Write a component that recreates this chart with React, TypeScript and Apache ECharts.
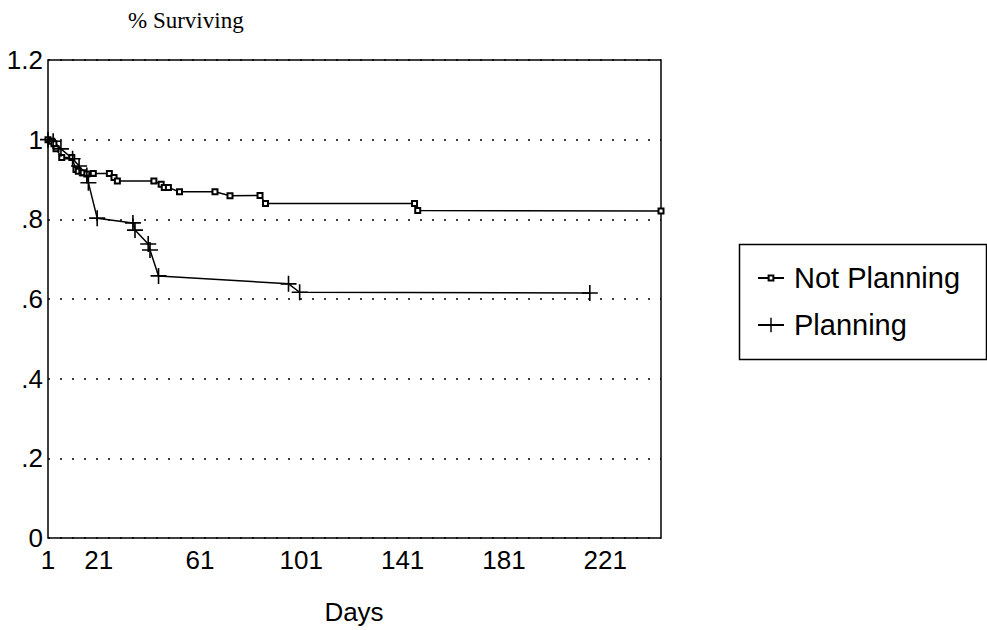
import React, { useEffect, useRef } from "react";
import * as echarts from "echarts";

const npDays = [1, 2.43, 3.35, 4.17, 6.42, 10.4, 12.04, 12.96, 14.9, 16.33, 18.89, 25.22, 27.06, 28.39, 42.8, 45.67, 46.9, 48.53, 52.92, 66.92, 72.85, 84.7, 86.86, 145.7, 146.95, 243];
const npSurv = [1, 0.996, 0.99, 0.977, 0.955, 0.955, 0.925, 0.921, 0.917, 0.914, 0.915, 0.915, 0.905, 0.896, 0.896, 0.888, 0.88, 0.88, 0.869, 0.869, 0.859, 0.86, 0.84, 0.84, 0.822, 0.821];

const pDays = [1, 3.04, 6.11, 10.71, 13.27, 16.33, 16.94, 20.42, 34.52, 35.34, 40.56, 41.27, 44.64, 95.95, 100.35, 214.9];
const pSurv = [1, 0.996, 0.977, 0.952, 0.934, 0.91, 0.892, 0.803, 0.791, 0.773, 0.738, 0.723, 0.658, 0.638, 0.617, 0.615];

const xTickValues = [1, 21, 61, 101, 141, 181, 221];
const seriesNames = ["Not Planning", "Planning"];

const PLUS = "path://M4.5,0h1v4.5h4.5v1h-4.5v4.5h-1v-4.5h-4.5v-1h4.5z";

export default function App() {
  const ref = useRef<HTMLDivElement>(null);
  useEffect(() => {
    const chart = echarts.init(ref.current!, null, { renderer: "svg" });
    const font = "'Liberation Sans', Arial, sans-serif";
    const legendText = { fontFamily: font, fontSize: 29, color: "#000", lineHeight: 30, padding: [0, 0, 0, 5] };
    chart.setOption({
      animation: false,
      backgroundColor: "#fff",
      grid: { left: 48, top: 60, width: 613, height: 478, show: true, borderColor: "#000", borderWidth: 1.5 },
      xAxis: {
        type: "value",
        min: 1,
        max: 243,
        axisLine: { show: false },
        axisTick: { show: false },
        splitLine: { show: false },
        axisLabel: { customValues: xTickValues, fontFamily: font, fontSize: 26, color: "#000", margin: 9 },
      },
      yAxis: {
        type: "value",
        min: 0,
        max: 1.2,
        interval: 0.2,
        axisLine: { show: false },
        axisTick: { show: false },
        splitLine: { show: true, lineStyle: { type: [2, 10], color: "#000", width: 1.5 } },
        axisLabel: {
          fontFamily: font,
          fontSize: 26,
          color: "#000",
          margin: 5,
          formatter: (v: number) => {
            const r = Math.round(v * 10) / 10;
            if (r === 0) return "0";
            if (r === 1) return "1";
            if (r === 1.2) return "1.2";
            return r.toFixed(1).replace(/^0/, "");
          },
        },
      },
      legend: [
        {
          data: [seriesNames[0]],
          orient: "vertical",
          left: 757,
          top: 263,
          padding: 0,
          itemWidth: 26,
          itemHeight: 6,
          selectedMode: false,
          textStyle: legendText,
        },
        {
          data: [seriesNames[1]],
          orient: "vertical",
          left: 757,
          top: 310,
          padding: 0,
          itemWidth: 26,
          itemHeight: 18,
          selectedMode: false,
          textStyle: legendText,
        },
      ],
      graphic: [
        { type: "rect", left: 737, top: 242, shape: { width: 247, height: 115 }, style: { fill: "none", stroke: "#000", lineWidth: 1.5 } },
        { type: "text", left: 128, top: 9, style: { text: "% Surviving", font: "23px 'Liberation Serif', 'Times New Roman', serif", fill: "#000" } },
        { type: "text", x: 354, y: 612, style: { text: "Days", font: "26px " + font, fill: "#000", align: "center", verticalAlign: "middle" } },
      ],
      series: [
        {
          name: seriesNames[0],
          type: "line",
          data: npDays.map((d, i) => [d, npSurv[i]]),
          symbol: "emptyRect",
          symbolSize: 5,
          showAllSymbol: true,
          lineStyle: { color: "#000", width: 1.5 },
          itemStyle: { color: "#000", borderWidth: 1 },
        },
        {
          name: seriesNames[1],
          type: "line",
          data: pDays.map((d, i) => [d, pSurv[i]]),
          symbol: PLUS,
          symbolSize: 16,
          showAllSymbol: true,
          lineStyle: { color: "#000", width: 1.5 },
          itemStyle: { color: "#000" },
        },
      ],
    });
    return () => chart.dispose();
  }, []);
  return <div ref={ref} style={{ position: "fixed", left: 0, top: 0, width: 987, height: 630 }} />;
}
